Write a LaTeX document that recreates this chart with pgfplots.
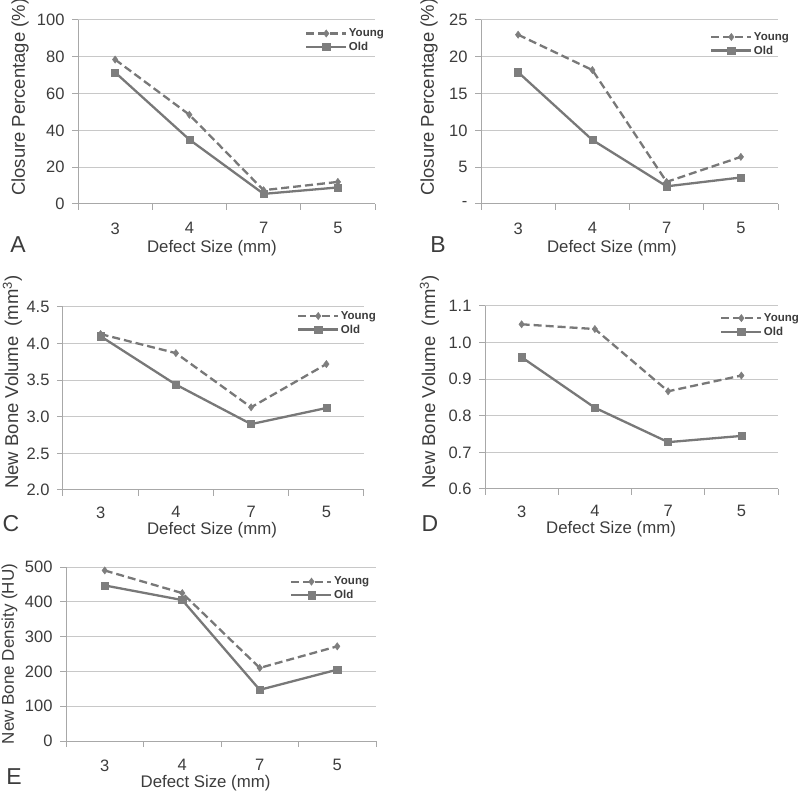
\documentclass[border=0pt]{standalone}
\usepackage{pgfplots}
\pgfplotsset{compat=1.18}
\usepackage{fontspec}
\setmainfont{Liberation Sans}
\definecolor{linec}{HTML}{787878}
\definecolor{markc}{HTML}{7E7E7E}
\definecolor{gridc}{HTML}{C8C8C8}
\definecolor{axisc}{HTML}{A8A8A8}
\definecolor{textc}{HTML}{3C3C3C}
\pgfplotsset{
  panel/.style={
    scale only axis,
    xmin=-0.5, xmax=3.5,
    xtick={0,1,2,3}, xticklabels={3,4,7,5},
    minor xtick={-0.5,0.5,1.5,2.5,3.5},
    axis lines*=left,
    ymajorgrids,
    grid style={gridc, line width=1pt},
    axis line style={axisc, line width=1pt},
    tick align=outside,
    major tick length=6pt, minor tick length=6pt,
    every major x tick/.style={draw=none},
    every minor x tick/.style={draw=axisc, line width=1pt},
    every major y tick/.style={draw=axisc, line width=1pt},
    /pgf/number format/assume math mode=true,
    tick label style={font=\fontsize{16.5}{16.5}\selectfont, text=textc},
    yticklabel style={xshift=-4pt},
    xticklabel style={yshift=-9pt},
    label style={text=textc},
    xlabel style={font=\fontsize{16.8}{16.8}\selectfont},
    ylabel style={font=\fontsize{18.5}{18.5}\selectfont},
    xlabel={Defect Size (mm)},
    legend cell align=left,
    legend style={draw=none, fill=none, inner sep=0pt, anchor=west,
      font=\fontsize{11.5}{12}\selectfont\bfseries, text=textc,
      row sep=1pt, nodes={inner sep=1.5pt}},
    legend image code/.code={\draw[mark repeat=2,mark phase=2,##1] plot coordinates {(0pt,0pt) (20pt,0pt) (40pt,0pt)};},
  },
  young/.style={linec, line width=2.3pt, dash pattern=on 8pt off 4pt, mark=diamond*, mark size=3.6pt, mark options={solid, fill=markc, draw=markc, line width=0.5pt}},
  old/.style={linec, line width=2.3pt, mark=square*, mark size=3.6pt, mark options={solid, fill=markc, draw=markc, line width=0.5pt}},
}
\begin{document}
\begin{tikzpicture}
\path[use as bounding box] (0pt,0pt) rectangle (800pt,792pt);
% Panel A
\begin{axis}[panel, at={(78pt,588pt)}, anchor=south west, width=297pt, height=184pt,
  ymin=0, ymax=100, ytick={0,20,40,60,80,100},
  ylabel={Closure Percentage (\%)},
  ylabel style={at={(axis description cs:-0.195,0.58)}, anchor=center},
  xlabel style={at={(axis description cs:0.451,-0.239)}, anchor=center},
  legend style={at={(axis description cs:0.764,0.889)}}]
\addplot[young] coordinates {(0,78.5) (1,48.5) (2,7.5) (3,12)};
\addplot[old] coordinates {(0,71.5) (1,35) (2,5.5) (3,9)};
\legend{Young,Old}
\end{axis}
% Panel B
\begin{axis}[panel, at={(481pt,588pt)}, anchor=south west, width=297pt, height=184pt,
  ymin=0, ymax=25, ytick={0,5,10,15,20,25}, yticklabels={-,5,10,15,20,25},
  ylabel={Closure Percentage (\%)},
  ylabel style={at={(axis description cs:-0.175,0.58)}, anchor=center},
  xlabel style={at={(axis description cs:0.441,-0.239)}, anchor=center},
  legend style={at={(axis description cs:0.771,0.870)}}]
\addplot[young] coordinates {(0,23) (1,18.2) (2,3) (3,6.4)};
\addplot[old] coordinates {(0,17.9) (1,8.7) (2,2.4) (3,3.6)};
\legend{Young,Old}
\end{axis}
% Panel C
\begin{axis}[panel, at={(63pt,302pt)}, anchor=south west, width=301pt, height=183pt,
  ymin=2, ymax=4.5, ytick={2,2.5,3,3.5,4,4.5},
  yticklabel style={/pgf/number format/.cd, fixed, fixed zerofill, precision=1},
  xticklabel style={yshift=2pt},
  ylabel={New Bone Volume \ (mm\textsuperscript{3})},
  ylabel style={at={(axis description cs:-0.168,0.59)}, anchor=center},
  xlabel style={at={(axis description cs:0.495,-0.218)}, anchor=center},
  legend style={at={(axis description cs:0.777,0.913)}}]
\addplot[young] coordinates {(0,4.13) (1,3.87) (2,3.13) (3,3.72)};
\addplot[old] coordinates {(0,4.10) (1,3.44) (2,2.90) (3,3.12)};
\legend{Young,Old}
\end{axis}
% Panel D
\begin{axis}[panel, at={(485pt,303pt)}, anchor=south west, width=293pt, height=183pt,
  ymin=0.6, ymax=1.1, ytick={0.6,0.7,0.8,0.9,1.0,1.1},
  yticklabel style={/pgf/number format/.cd, fixed, fixed zerofill, precision=1},
  xticklabel style={yshift=2pt},
  ylabel={New Bone Volume \ (mm\textsuperscript{3})},
  ylabel style={at={(axis description cs:-0.19,0.585)}, anchor=center},
  xlabel style={at={(axis description cs:0.43,-0.218)}, anchor=center},
  legend style={at={(axis description cs:0.802,0.896)}}]
\addplot[young] coordinates {(0,1.05) (1,1.037) (2,0.867) (3,0.91)};
\addplot[old] coordinates {(0,0.96) (1,0.822) (2,0.728) (3,0.745)};
\legend{Young,Old}
\end{axis}
% Panel E
\begin{axis}[panel, at={(66pt,51pt)}, anchor=south west, width=310pt, height=174pt,
  ymin=0, ymax=500, ytick={0,100,200,300,400,500},
  ylabel={New Bone Density (HU)},
  ylabel style={at={(axis description cs:-0.182,0.5)}, anchor=center, font=\fontsize{17}{17}\selectfont},
  xlabel style={at={(axis description cs:0.45,-0.241)}, anchor=center},
  legend style={at={(axis description cs:0.723,0.876)}}]
\addplot[young] coordinates {(0,490) (1,425) (2,210) (3,272)};
\addplot[old] coordinates {(0,447) (1,405) (2,147) (3,205)};
\legend{Young,Old}
\end{axis}
\begin{scope}[every node/.style={font=\fontsize{23}{23}\selectfont, text=textc, anchor=center, inner sep=0pt}]
\node at (18pt,547pt) {A};
\node at (438pt,547pt) {B};
\node at (11pt,268pt) {C};
\node at (430pt,268pt) {D};
\node at (14pt,15pt) {E};
\end{scope}
\end{tikzpicture}
\end{document}
